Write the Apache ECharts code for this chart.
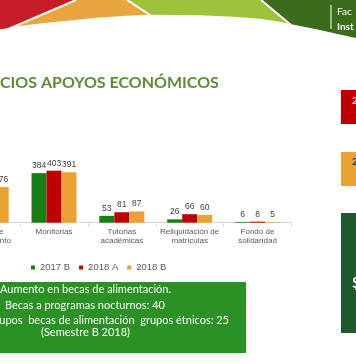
<!DOCTYPE html>
<html>
<head>
<meta charset="utf-8">
<script src="https://cdn.jsdelivr.net/npm/echarts@6/dist/echarts.min.js"></script>
<style>
html,body{margin:0;padding:0;background:#fff;overflow:hidden;width:356px;height:364px;}
#c{position:absolute;left:-60px;top:0;width:416px;height:364px;}
</style>
</head>
<body>
<div id="c"></div>
<script>
var categories = ['Auxilio de\nsostenimiento', 'Monitorias', 'Tutorias\nacadémicas', 'Reliquidación de\nmatriculas', 'Fondo de\nsolidaridad'];
var seriesNames = ['2017 B', '2018 A', '2018 B'];
var values2017B = [250, 384, 53, 26, 6];
var values2018A = [265, 403, 81, 66, 8];
var values2018B = [276, 391, 87, 60, 5];
var titleText = 'CIOS APOYOS ECONÓMICOS';
var boxLines = ['Aumento en becas de alimentación.', 'Becas a programas nocturnos: 40', 'Cupos  becas de alimentación  grupos étnicos: 25', '(Semestre B 2018)'];

var OX = 60; // the drawing surface starts 60px left of the visible window
var chart = echarts.init(document.getElementById('c'), null, {renderer: 'canvas'});
var colors = ['#157f15', '#c00000', '#e9a232'];

function barSeries(name, data, color) {
  return {
    name: name, type: 'bar', data: data, barWidth: 15, barGap: '0%',
    itemStyle: {color: color},
    label: {show: true, position: 'top', distance: 3, fontSize: 8.5, color: '#404040', fontFamily: 'Liberation Sans'}
  };
}
function P(pts) { return pts.map(function (p) { return [p[0] + OX, p[1]]; }); }

var white = '#ffffff';
var graphics = [
  {type: 'rect', shape: {x: OX, y: 0, width: 356, height: 45}, style: {fill: '#3b6c1c'}, z: 0},
  {type: 'polygon', shape: {points: P([[-10, 0], [261, 0], [315, 45], [-10, 45]])}, style: {fill: '#9dc23c'}, z: 1},
  {type: 'polygon', shape: {points: P([[-10, 0], [127, 0], [196, 45], [-10, 45]])}, style: {fill: '#e9a53e'}, z: 2},
  {type: 'polygon', shape: {points: P([[-10, 0], [76, 0], [-29, 45], [-10, 45]])}, style: {fill: '#c61d26'}, z: 3},
  {type: 'polyline', shape: {points: P([[76, 0], [-29, 45]])}, style: {stroke: white, lineWidth: 2}, z: 4},
  {type: 'polyline', shape: {points: P([[127, 0], [196, 45]])}, style: {stroke: white, lineWidth: 2}, z: 4},
  {type: 'polyline', shape: {points: P([[261, 0], [315, 45]])}, style: {stroke: white, lineWidth: 2}, z: 4},
  {type: 'polygon', shape: {points: P([[-10, 31], [0, 29.3], [10, 28], [20, 26], [40, 23.5], [67, 20.7], [100, 17.5], [140, 15], [160, 14.7], [200, 15.3], [233, 16.7], [260, 18.8], [280, 21.7], [290, 24], [300, 26], [320, 30], [333, 33], [356, 38], [356, 60], [-10, 60]])}, style: {fill: white}, z: 5},
  {type: 'polyline', shape: {points: P([[331, 5], [331, 29]])}, style: {stroke: white, lineWidth: 1}, z: 6},
  {type: 'text', x: 337 + OX, y: 12, style: {text: 'Fac', fill: white, fontSize: 10, fontFamily: 'Lato', verticalAlign: 'middle'}, z: 6},
  {type: 'text', x: 337 + OX, y: 27, style: {text: 'Inst', fill: white, fontSize: 10, fontWeight: 'bold', fontFamily: 'Lato', verticalAlign: 'middle'}, z: 6},
  {type: 'text', x: 0 + OX, y: 83, style: {text: titleText, fill: '#5a8f31', fontSize: 16, fontWeight: 'bold', fontFamily: 'Lato', verticalAlign: 'middle'}},
  {type: 'rect', shape: {x: 341 + OX, y: 90, width: 15, height: 34}, style: {fill: '#c00000'}},
  {type: 'text', x: 352 + OX, y: 101, style: {text: '2', fill: white, fontSize: 10, fontWeight: 'bold', fontFamily: 'Lato', verticalAlign: 'middle'}},
  {type: 'rect', shape: {x: 341 + OX, y: 152, width: 15, height: 34}, style: {fill: '#e9a232'}},
  {type: 'text', x: 352 + OX, y: 162, style: {text: '2', fill: '#333333', fontSize: 10, fontWeight: 'bold', fontFamily: 'Lato', verticalAlign: 'middle'}},
  {type: 'rect', shape: {x: 341 + OX, y: 213, width: 15, height: 120}, style: {fill: '#1e5a2d'}},
  {type: 'text', x: 352 + OX, y: 283, style: {text: '$', fill: white, fontSize: 15, fontWeight: 'bold', fontFamily: 'Lato', verticalAlign: 'middle'}},
  {type: 'rect', shape: {x: -20 + OX, y: 282, width: 266, height: 71}, style: {fill: '#2b9124'}},
  {type: 'text', x: 0 + OX, y: 289.5, style: {text: boxLines[0], fill: white, fontSize: 11, fontFamily: 'Lato', verticalAlign: 'middle'}},
  {type: 'text', x: 5 + OX, y: 305, style: {text: boxLines[1], fill: white, fontSize: 11, fontFamily: 'Lato', verticalAlign: 'middle'}},
  {type: 'text', x: 229 + OX, y: 320.5, style: {text: boxLines[2], fill: white, fontSize: 11, fontFamily: 'Lato', align: 'right', verticalAlign: 'middle'}},
  {type: 'text', x: 41 + OX, y: 332.5, style: {text: boxLines[3], fill: white, fontSize: 11, fontFamily: 'Lato', verticalAlign: 'middle'}}
];

var option = {
  animation: false,
  backgroundColor: '#ffffff',
  grid: {left: OX - 47.7, right: 64.6, top: 164.6, bottom: 141.3, containLabel: false},
  legend: {
    data: seriesNames, icon: 'rect', itemWidth: 4, itemHeight: 4, itemGap: 9,
    left: 26 + OX, top: 257.5,
    textStyle: {fontSize: 9.5, color: '#595959', fontFamily: 'Liberation Sans'}
  },
  xAxis: {
    type: 'category', data: categories,
    axisLine: {lineStyle: {color: '#d9d9d9'}},
    axisTick: {show: true, length: 4, lineStyle: {color: '#d9d9d9'}},
    axisLabel: {interval: 0, fontSize: 8, lineHeight: 9, margin: 5, color: '#595959', fontFamily: 'Liberation Sans'}
  },
  yAxis: {type: 'value', min: 0, max: 450, show: false, splitLine: {show: false}},
  series: [
    barSeries(seriesNames[0], values2017B, colors[0]),
    barSeries(seriesNames[1], values2018A, colors[1]),
    barSeries(seriesNames[2], values2018B, colors[2])
  ],
  graphic: {elements: graphics}
};
chart.setOption(option);
</script>
</body>
</html>
